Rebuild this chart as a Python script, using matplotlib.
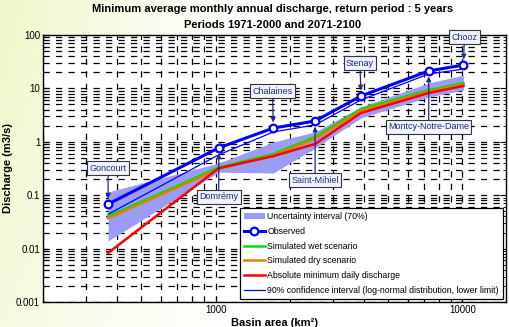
import numpy as np
import matplotlib
matplotlib.use('Agg')
from matplotlib import pyplot as plt
from matplotlib.patches import Patch
from matplotlib.lines import Line2D
from matplotlib.ticker import LogLocator, NullFormatter, FuncFormatter

plt.rcParams['font.family'] = ['Liberation Sans', 'DejaVu Sans']

#
# Data
#
stations = ['Goncourt', 'Domrémy', 'Chalaines', 'Saint-Mihiel',
            'Stenay', 'Montcy-Notre-Dame', 'Chooz']
area = [367, 1030, 1715, 2530, 3880, 7300, 10090]

observed = [0.068, 0.77, 1.81, 2.45, 7.2, 21.2, 27.4]
ci90_low = [0.044, 0.57, 1.53, 2.07, 6.07, 18.6, 23.0]
wet      = [0.040, 0.33, 0.59, 1.23, 4.1, 9.3, 12.6]
dry      = [0.037, 0.31, 0.56, 1.13, 3.8, 8.8, 11.8]
abs_min  = [0.0083, 0.32, 0.54, 0.91, 3.46, 8.2, 11.1]
band_hi  = [0.115, 0.40, 0.99, 1.53, 4.5, 12.6, 17.8]
band_lo  = [0.0139, 0.27, 0.26, 0.77, 2.8, 6.9, 9.3]

# label box offsets (pixels) from each station marker
label_offsets = [(0, 36), (0, -49), (-1, 37), (0, -59), (-1, 33), (0, -56), (1, 28)]

NAVY = '#1c2c8c'
BAND = '#9c9cf6'

#
# Figure
#
fig = plt.figure(figsize=(5.09, 3.27), dpi=100)

# pale slide background on the left
bg = fig.add_axes([0, 0, 1, 1], zorder=-10)
gx = np.linspace(0, 1, 300)
gy = np.linspace(0, 1, 200)
GX, GY = np.meshgrid(gx, gy)
w = np.clip(1 - GX / 0.55, 0, 1) ** 1.5 * (0.55 + 0.45 * GY)
c0 = np.array([0.93, 0.97, 0.78])
img = np.ones((200, 300, 3)) * (1 - w[..., None]) + c0 * w[..., None]
bg.imshow(img, origin='lower', extent=[0, 1, 0, 1], aspect='auto')
bg.axis('off')

ax = fig.add_axes([0.0845, 0.0765, 0.9095, 0.8165])
ax.set_facecolor('white')
ax.set_xscale('log')
ax.set_yscale('log')
ax.set_xlim(200, 15000)
ax.set_ylim(0.001, 100)

ax.fill_between(area, band_lo, band_hi, color=BAND, lw=0, zorder=2)
ax.plot(area, wet, color='#00e000', lw=1.8, zorder=3)
ax.plot(area, dry, color='#e08000', lw=1.8, zorder=3)
ax.plot(area, abs_min, color='#ff0000', lw=1.8, zorder=4)
ax.plot(area, ci90_low, color='#0000ff', lw=0.9, zorder=5)
ax.plot(area, observed, color='#0000ff', lw=2.2, marker='o', ms=5.5,
        mfc='white', mec='#0000ff', mew=1.6, zorder=6)

for name, xa, ya, off in zip(stations, area, observed, label_offsets):
    ax.annotate(name, xy=(xa, ya), xytext=off, textcoords='offset pixels',
                ha='center', va='center', fontsize=6.5, color=NAVY,
                bbox=dict(boxstyle='square,pad=0.25', fc='#f2f4fb', ec='#333344', lw=0.8),
                arrowprops=dict(arrowstyle='-|>', color=NAVY, lw=0.9,
                                shrinkA=0, shrinkB=4, mutation_scale=7),
                zorder=8)

# grid and ticks
ax.xaxis.set_major_locator(LogLocator(base=10))
ax.xaxis.set_minor_locator(LogLocator(base=10, subs=np.arange(2, 10)))
ax.yaxis.set_major_locator(LogLocator(base=10, numticks=10))
ax.yaxis.set_minor_locator(LogLocator(base=10, subs=np.arange(2, 10), numticks=10))
ax.xaxis.set_minor_formatter(NullFormatter())
ax.yaxis.set_minor_formatter(NullFormatter())
ax.xaxis.set_major_formatter(FuncFormatter(lambda v, p: '%g' % v))
ax.yaxis.set_major_formatter(FuncFormatter(lambda v, p: '%g' % v))
ax.grid(True, which='both', color='black', lw=0.9, ls=(0, (5, 5)), zorder=1)
ax.set_axisbelow(True)
ax.tick_params(which='both', direction='in', top=True, right=True,
               labelsize=7, pad=2, colors='black')
ax.tick_params(which='major', length=4)
ax.tick_params(which='minor', length=2.5)
for s in ax.spines.values():
    s.set_linewidth(1.0)

ax.set_xlabel('Basin area (km²)', fontsize=8, fontweight='bold', labelpad=2)
ax.set_ylabel('Discharge (m3/s)', fontsize=8, fontweight='bold', labelpad=2)
fig.text(0.535, 0.972, 'Minimum average monthly annual discharge, return period : 5 years',
         ha='center', va='center', fontsize=8, fontweight='bold')
fig.text(0.535, 0.925, 'Periods 1971-2000 and 2071-2100',
         ha='center', va='center', fontsize=8, fontweight='bold')

handles = [
    Patch(facecolor=BAND, edgecolor='none'),
    Line2D([], [], color='#0000ff', lw=2.2, marker='o', ms=5.5, mfc='white', mew=1.6),
    Line2D([], [], color='#00e000', lw=1.8),
    Line2D([], [], color='#e08000', lw=1.8),
    Line2D([], [], color='#ff0000', lw=1.8),
    Line2D([], [], color='#0000ff', lw=0.9),
]
labels = ['Uncertainty interval (70%)', 'Observed', 'Simulated wet scenario',
          'Simulated dry scenario', 'Absolute minimum daily discharge',
          '90% confidence interval (log-normal distribution, lower limit)']
leg = ax.legend(handles, labels, loc='lower right', fontsize=6.3, frameon=True,
                fancybox=False, edgecolor='black', framealpha=1,
                handlelength=2.4, handletextpad=0.3, labelspacing=0.66,
                borderpad=0.45, borderaxespad=0.35)
leg.get_frame().set_linewidth(0.9)
leg.set_zorder(10)

fig.savefig('out.png', dpi=100)
